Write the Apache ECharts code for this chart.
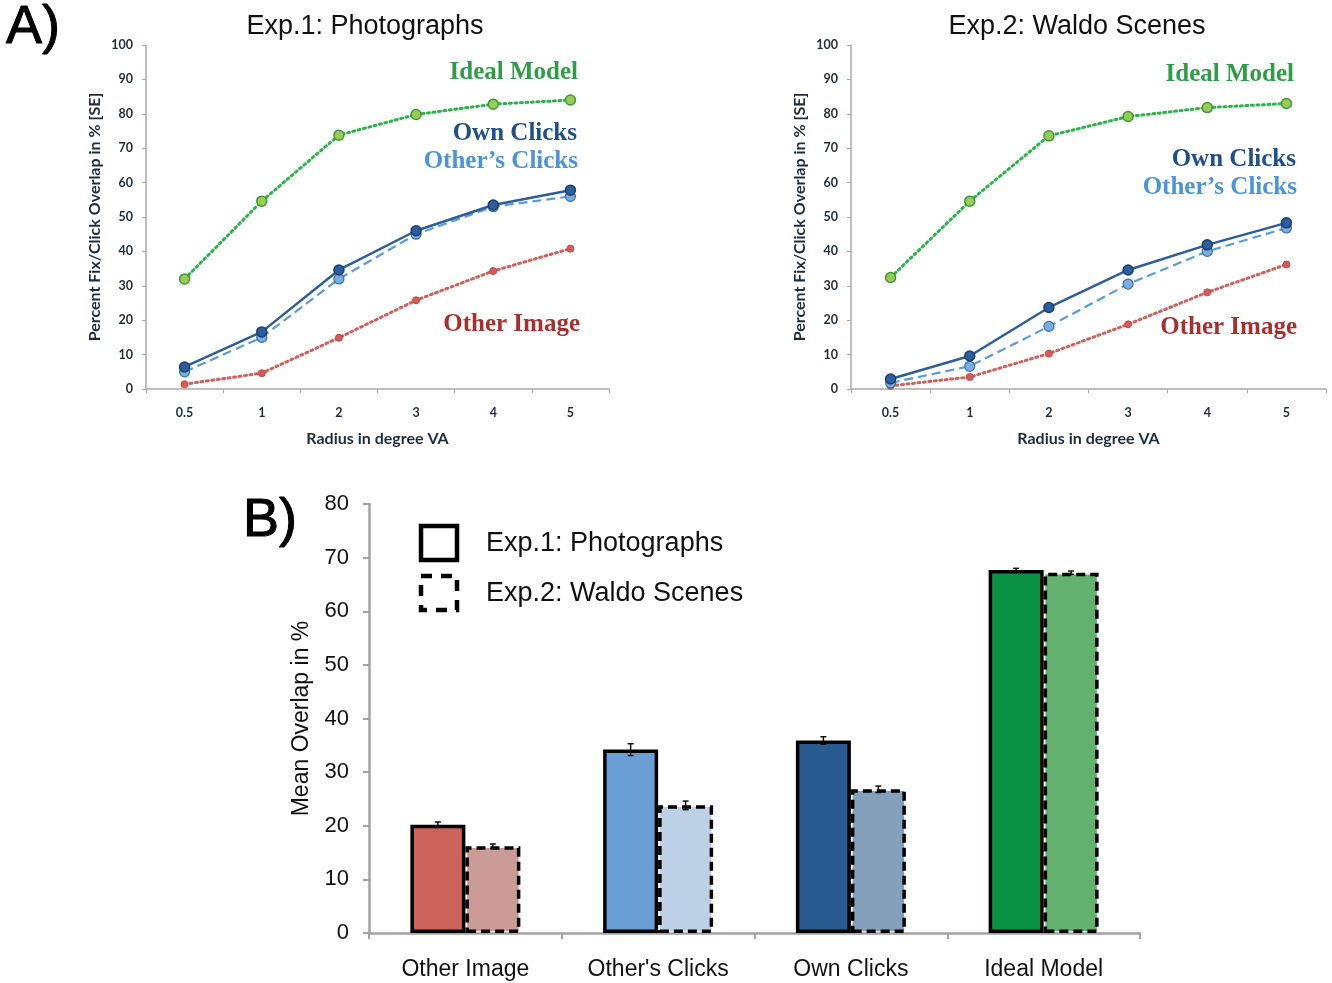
<!DOCTYPE html>
<html>
<head>
<meta charset="utf-8">
<script src="https://cdn.jsdelivr.net/npm/echarts@6/dist/echarts.min.js"></script>
<style>html,body{margin:0;padding:0;background:#fff;}#c{width:1332px;height:983px;}</style>
</head>
<body>
<div id="c"></div>
<script>
// ---- Data ----
const radii = ['0.5', '1', '2', '3', '4', '5'];
const exp1Ideal = [32, 54.6, 73.8, 79.8, 82.8, 84];
const exp1Own = [6.4, 16.6, 34.6, 46, 53.5, 57.8];
const exp1Others = [5, 15, 32, 45, 53, 56];
const exp1OtherImage = [1.4, 4.6, 14.9, 25.8, 34.3, 40.8];
const exp2Ideal = [32.4, 54.6, 73.6, 79.2, 81.8, 83];
const exp2Own = [2.9, 9.6, 23.7, 34.6, 41.9, 48.3];
const exp2Others = [1.8, 6.6, 18.2, 30.5, 40, 46.8];
const exp2OtherImage = [0.9, 3.5, 10.3, 18.8, 28.1, 36.2];
const barCategories = ['Other Image', "Other's Clicks", 'Own Clicks', 'Ideal Model'];
const barExp1 = [20.2, 34.2, 35.9, 67.7];
const barExp2 = [16.2, 23.8, 26.8, 67.2];
const errExp1 = [0.5, 1.1, 0.7, 0.3];
const errExp2 = [0.4, 0.8, 0.6, 0.3];
const yTicksTop = [0, 10, 20, 30, 40, 50, 60, 70, 80, 90, 100];
const yTicksBottom = [0, 10, 20, 30, 40, 50, 60, 70, 80];

// ---- Styles ----
const colExp1 = ['#cd625a', '#6a9fd5', '#2a5b90', '#0c9245'];
const colExp2 = ['#cd9b97', '#bdd0e6', '#84a0bb', '#62b16e'];
const C = {
  ideal: '#2db34a', idealFill: '#9bcb55', idealBorder: '#3a9a3a',
  own: '#2c5d9c', ownBorder: '#1d3f6e',
  others: '#5a9ad6', othersFill: '#79aee0', othersBorder: '#3a6ea5',
  oimg: '#d0605a'
};
const tickTxt = '#1e2b3a';
const BAR_W = 55;

const chart = echarts.init(document.getElementById('c'), null, {renderer: 'canvas'});

function topX(grid) {
  return {
    type: 'category', gridIndex: grid, data: radii, boundaryGap: true,
    axisLine: {lineStyle: {color: '#a9a9a9', width: 1.5}},
    axisTick: {show: true, length: 4, lineStyle: {color: '#a9a9a9'}},
    axisLabel: {color: tickTxt, fontSize: 12.5, fontWeight: 'bold', fontFamily: 'Lato', margin: 17},
    name: 'Radius in degree VA', nameLocation: 'middle', nameGap: 42,
    nameTextStyle: {color: tickTxt, fontSize: 16, fontWeight: 'bold', fontFamily: 'Lato'}
  };
}
function topY(grid) {
  return {
    type: 'value', gridIndex: grid, min: 0, max: 100, interval: 10,
    splitLine: {show: false},
    axisLine: {show: true, lineStyle: {color: '#a9a9a9', width: 1.5}},
    axisTick: {show: true, length: 4, lineStyle: {color: '#a9a9a9'}},
    axisLabel: {color: tickTxt, fontSize: 12.5, fontWeight: 'bold', fontFamily: 'Lato', margin: 13,
      formatter: v => yTicksTop.includes(v) ? String(v) : ''},
    name: 'Percent Fix/Click Overlap in % [SE]', nameLocation: 'middle', nameGap: 43, nameRotate: 90,
    nameTextStyle: {color: tickTxt, fontSize: 16, fontWeight: 'bold', fontFamily: 'Lato'}
  };
}
function lineSeries(idx, data, kind) {
  const base = {type: 'line', xAxisIndex: idx, yAxisIndex: idx, data: data, symbol: 'circle', z: 3, animation: false};
  if (kind === 'ideal') return Object.assign(base, {
    symbolSize: 10, lineStyle: {color: C.ideal, width: 3, type: [2, 3.5], cap: 'round'},
    itemStyle: {color: C.idealFill, borderColor: C.idealBorder, borderWidth: 1.5}});
  if (kind === 'own') return Object.assign(base, {
    symbolSize: 10, z: 5, lineStyle: {color: C.own, width: 2.5},
    itemStyle: {color: C.own, borderColor: C.ownBorder, borderWidth: 1.5}});
  if (kind === 'others') return Object.assign(base, {
    symbolSize: 10, z: 4, lineStyle: {color: C.others, width: 2.2, type: [9, 5]},
    itemStyle: {color: C.othersFill, borderColor: C.othersBorder, borderWidth: 1.2}});
  return Object.assign(base, {
    symbolSize: 7, lineStyle: {color: C.oimg, width: 3, type: [2, 3.5], cap: 'round'},
    itemStyle: {color: '#d65a55', borderColor: '#c04a45', borderWidth: 1}});
}

const errData1 = barExp1.map((v, i) => [i, v, errExp1[i], -1]);
const errData2 = barExp2.map((v, i) => [i, v, errExp2[i], 1]);
function renderErr(params, api) {
  const i = api.value(0), v = api.value(1), e = api.value(2), s = api.value(3);
  const off = s * BAR_W / 2;
  const hi = api.coord([i, v + e]);
  const lo = api.coord([i, v - e]);
  const x = hi[0] + off;
  const st = {stroke: '#111', lineWidth: 1.5};
  return {type: 'group', children: [
    {type: 'line', shape: {x1: x, y1: hi[1], x2: x, y2: lo[1]}, style: st},
    {type: 'line', shape: {x1: x - 3, y1: hi[1], x2: x + 3, y2: hi[1]}, style: st},
    {type: 'line', shape: {x1: x - 3, y1: lo[1], x2: x + 3, y2: lo[1]}, style: st}
  ]};
}

const serifLbl = (text, right, y, color) => ({
  type: 'text', x: right, y: y,
  style: {text: text, fill: color, font: 'bold 25px "Liberation Serif", "DejaVu Serif", serif', textAlign: 'right', textVerticalAlign: 'middle'}
});
const SANS = '"Liberation Sans", Arial, sans-serif';

const option = {
  backgroundColor: '#ffffff',
  animation: false,
  grid: [
    {left: 146, top: 45, width: 463, height: 344},
    {left: 851, top: 45, width: 475, height: 344},
    {left: 369, top: 504, width: 771, height: 429}
  ],
  xAxis: [
    topX(0), topX(1),
    {
      type: 'category', gridIndex: 2, data: barCategories, boundaryGap: true,
      axisLine: {lineStyle: {color: '#a3a3a3', width: 2.5}},
      axisTick: {show: true, length: 6, lineStyle: {color: '#a3a3a3', width: 2}},
      axisLabel: {color: '#111', fontSize: 23, fontFamily: 'Liberation Sans', margin: 25}
    }
  ],
  yAxis: [
    topY(0), topY(1),
    {
      type: 'value', gridIndex: 2, min: 0, max: 80, interval: 10,
      splitLine: {show: false},
      axisLine: {show: true, lineStyle: {color: '#a3a3a3', width: 2.5}},
      axisTick: {show: true, length: 6, lineStyle: {color: '#a3a3a3', width: 2}},
      axisLabel: {color: '#111', fontSize: 22, fontFamily: 'Liberation Sans', margin: 20,
        formatter: v => yTicksBottom.includes(v) ? String(v) : ''},
      name: 'Mean Overlap in %', nameLocation: 'middle', nameGap: 52, nameRotate: 90,
      nameTextStyle: {color: '#111', fontSize: 23, fontFamily: 'Liberation Sans'}
    }
  ],
  series: [
    lineSeries(0, exp1Ideal, 'ideal'),
    lineSeries(0, exp1OtherImage, 'oimg'),
    lineSeries(0, exp1Others, 'others'),
    lineSeries(0, exp1Own, 'own'),
    lineSeries(1, exp2Ideal, 'ideal'),
    lineSeries(1, exp2OtherImage, 'oimg'),
    lineSeries(1, exp2Others, 'others'),
    lineSeries(1, exp2Own, 'own'),
    {
      type: 'bar', xAxisIndex: 2, yAxisIndex: 2, barWidth: BAR_W, barGap: '0%',
      data: barExp1.map((v, i) => ({value: v, itemStyle: {color: colExp1[i]}})),
      itemStyle: {borderColor: '#000', borderWidth: 3.5}
    },
    {
      type: 'bar', xAxisIndex: 2, yAxisIndex: 2, barWidth: BAR_W, barGap: '0%',
      data: barExp2.map((v, i) => ({value: v, itemStyle: {color: colExp2[i]}})),
      itemStyle: {borderColor: '#000', borderWidth: 3.5, borderType: [9, 5]}
    },
    {type: 'custom', xAxisIndex: 2, yAxisIndex: 2, data: errData1, renderItem: renderErr, z: 10},
    {type: 'custom', xAxisIndex: 2, yAxisIndex: 2, data: errData2, renderItem: renderErr, z: 10}
  ],
  graphic: [
    {type: 'text', x: 6, y: 28, style: {text: 'A)', fill: '#000', font: '54px ' + SANS, textVerticalAlign: 'middle', stroke: '#000', lineWidth: 1}},
    {type: 'text', x: 243, y: 521, style: {text: 'B)', fill: '#000', font: '54px ' + SANS, textVerticalAlign: 'middle', stroke: '#000', lineWidth: 1}},
    {type: 'text', x: 365, y: 27, style: {text: 'Exp.1: Photographs', fill: '#111', font: '27px ' + SANS, textAlign: 'center', textVerticalAlign: 'middle'}},
    {type: 'text', x: 1077, y: 27, style: {text: 'Exp.2: Waldo Scenes', fill: '#111', font: '27px ' + SANS, textAlign: 'center', textVerticalAlign: 'middle'}},
    serifLbl('Ideal Model', 578, 73, '#2f9d46'),
    serifLbl('Own Clicks', 577, 134, '#1f4f8d'),
    serifLbl("Other\u2019s Clicks", 578, 162, '#4b93da'),
    serifLbl('Other Image', 580, 325, '#a8302c'),
    serifLbl('Ideal Model', 1294, 75, '#2f9d46'),
    serifLbl('Own Clicks', 1296, 160, '#1f4f8d'),
    serifLbl("Other\u2019s Clicks", 1297, 188, '#4b93da'),
    serifLbl('Other Image', 1297, 328, '#a8302c'),
    {type: 'rect', x: 421, y: 526, shape: {width: 36, height: 34}, style: {fill: '#fff', stroke: '#000', lineWidth: 4.5}},
    {type: 'rect', x: 421, y: 576, shape: {width: 36, height: 34}, style: {fill: '#fff', stroke: '#000', lineWidth: 4.5, lineDash: [11, 9]}},
    {type: 'text', x: 486, y: 544, style: {text: 'Exp.1: Photographs', fill: '#111', font: '27px ' + SANS, textVerticalAlign: 'middle'}},
    {type: 'text', x: 486, y: 594, style: {text: 'Exp.2: Waldo Scenes', fill: '#111', font: '27px ' + SANS, textVerticalAlign: 'middle'}}
  ]
};
chart.setOption(option);
</script>
</body>
</html>
